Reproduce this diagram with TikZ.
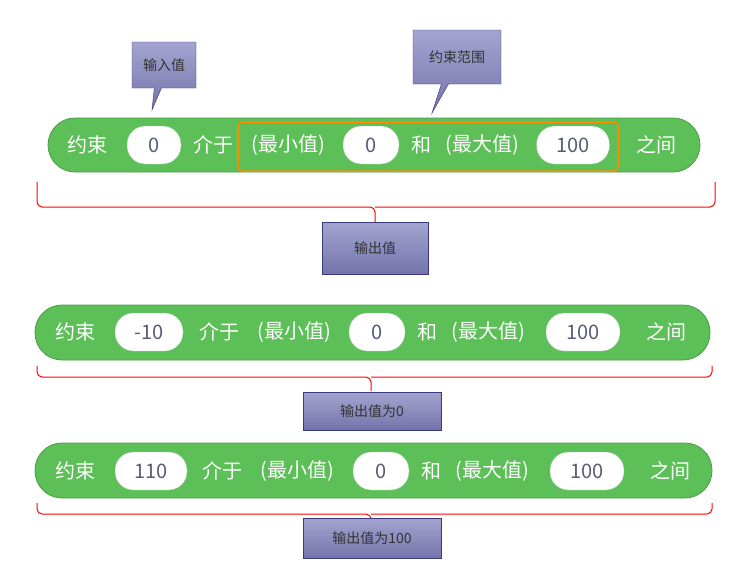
\documentclass[tikz,border=0pt]{standalone}
\usepackage{fontspec}
\setmainfont{Noto Sans CJK SC}
\usetikzlibrary{shapes.callouts}
\definecolor{blockgreen}{HTML}{5CBF57}
\definecolor{blockedge}{HTML}{4A9E46}
\definecolor{valtext}{HTML}{575C78}
\definecolor{tipedge}{HTML}{3A3A7A}
\definecolor{tiptop}{HTML}{A4A4D0}
\definecolor{tipbot}{HTML}{7474AC}
\tikzset{
  block/.style={draw=blockedge, fill=blockgreen, rounded corners=27pt, line width=0.8pt},
  word/.style={text=white, font=\fontsize{20}{20}\selectfont, inner sep=0pt},
  val/.style={draw=blockedge!60, fill=white, rounded corners=18pt, minimum height=38pt,
    text=valtext, font=\fontsize{20}{20}\selectfont, inner xsep=8pt},
  tip/.style={rectangle callout, draw=tipedge, top color=tiptop, bottom color=tipbot,
    font=\fontsize{14}{14}\selectfont, text=black!80, minimum width=64pt, minimum height=46pt},
  outbox/.style={draw=tipedge, top color=tiptop, bottom color=tipbot,
    font=\fontsize{14}{14}\selectfont, text=black!80},
  brace/.style={draw=red, line width=1pt, rounded corners=5pt}
}
\begin{document}
\begin{tikzpicture}[x=1pt,y=-1pt]
  \useasboundingbox (0,0) rectangle (750,562);
  % first block
  \draw [block] (48,118) rectangle (700,172);
  \node [word] (b1a) at (87,145) {约束};
  \node [val, minimum width=54pt] (b1in) at (154,145) {0};
  \node [word] (b1b) at (213,145) {介于};
  \node [word] (b1c) at (288,145) {(最小值)};
  \node [val, minimum width=56pt] (b1min) at (371,145) {0};
  \node [word] (b1d) at (421,145) {和};
  \node [word] (b1e) at (482,145) {(最大值)};
  \node [val, minimum width=73pt] (b1max) at (573,145) {100};
  \node [word] (b1f) at (656,145) {之间};
  \node [draw=orange!90!yellow, line width=1.5pt, rounded corners=4pt, minimum width=380pt, minimum height=49pt] (range) at (428,146.5) {};
  \node [tip, callout absolute pointer={(152,110)}] (tin) at (164,65) {输入值};
  \node [tip, minimum width=88pt, minimum height=54pt, callout absolute pointer={(432,113)}] (trange) at (457,57) {约束范围};
  \coordinate (r1) at (37,182);
  \coordinate (r2) at (715,182);
  \draw [brace] (r1) -- (37,207) -- (375,207) -- (375,222);
  \draw [brace] (r2) -- (715,207) -- (375,207);
  \node [outbox, minimum width=106pt, minimum height=52pt] (out1) at (375,248) {输出值};
  % second block
  \draw [block] (35,305) rectangle (710,360);
  \node [word] (b2a) at (75,332) {约束};
  \node [val, minimum width=68pt] (b2in) at (149,332) {-10};
  \node [word] (b2b) at (219,332) {介于};
  \node [word] (b2c) at (294,332) {(最小值)};
  \node [val, minimum width=56pt] (b2min) at (377,332) {0};
  \node [word] (b2d) at (427,332) {和};
  \node [word] (b2e) at (488,332) {(最大值)};
  \node [val, minimum width=74pt] (b2max) at (583,332) {100};
  \node [word] (b2f) at (666,332) {之间};
  \draw [brace] (37,366) -- (37,377) -- (371,377) -- (371,391);
  \draw [brace] (712,366) -- (712,377) -- (371,377);
  \node [outbox, minimum width=138pt, minimum height=38pt] (out2) at (372,411) {输出值为0};
  % third block
  \draw [block] (35,443) rectangle (712,498);
  \node [word] (b3a) at (75,471) {约束};
  \node [val, minimum width=72pt] (b3in) at (151,471) {110};
  \node [word] (b3b) at (222,471) {介于};
  \node [word] (b3c) at (297,471) {(最小值)};
  \node [val, minimum width=56pt] (b3min) at (381,471) {0};
  \node [word] (b3d) at (431,471) {和};
  \node [word] (b3e) at (492,471) {(最大值)};
  \node [val, minimum width=74pt] (b3max) at (587,471) {100};
  \node [word] (b3f) at (670,471) {之间};
  \draw [brace] (37,503) -- (37,514) -- (371,514) -- (371,519);
  \draw [brace] (712,503) -- (712,514) -- (371,514);
  \node [outbox, minimum width=138pt, minimum height=40pt] (out3) at (372,538) {输出值为100};
\end{tikzpicture}
\end{document}
